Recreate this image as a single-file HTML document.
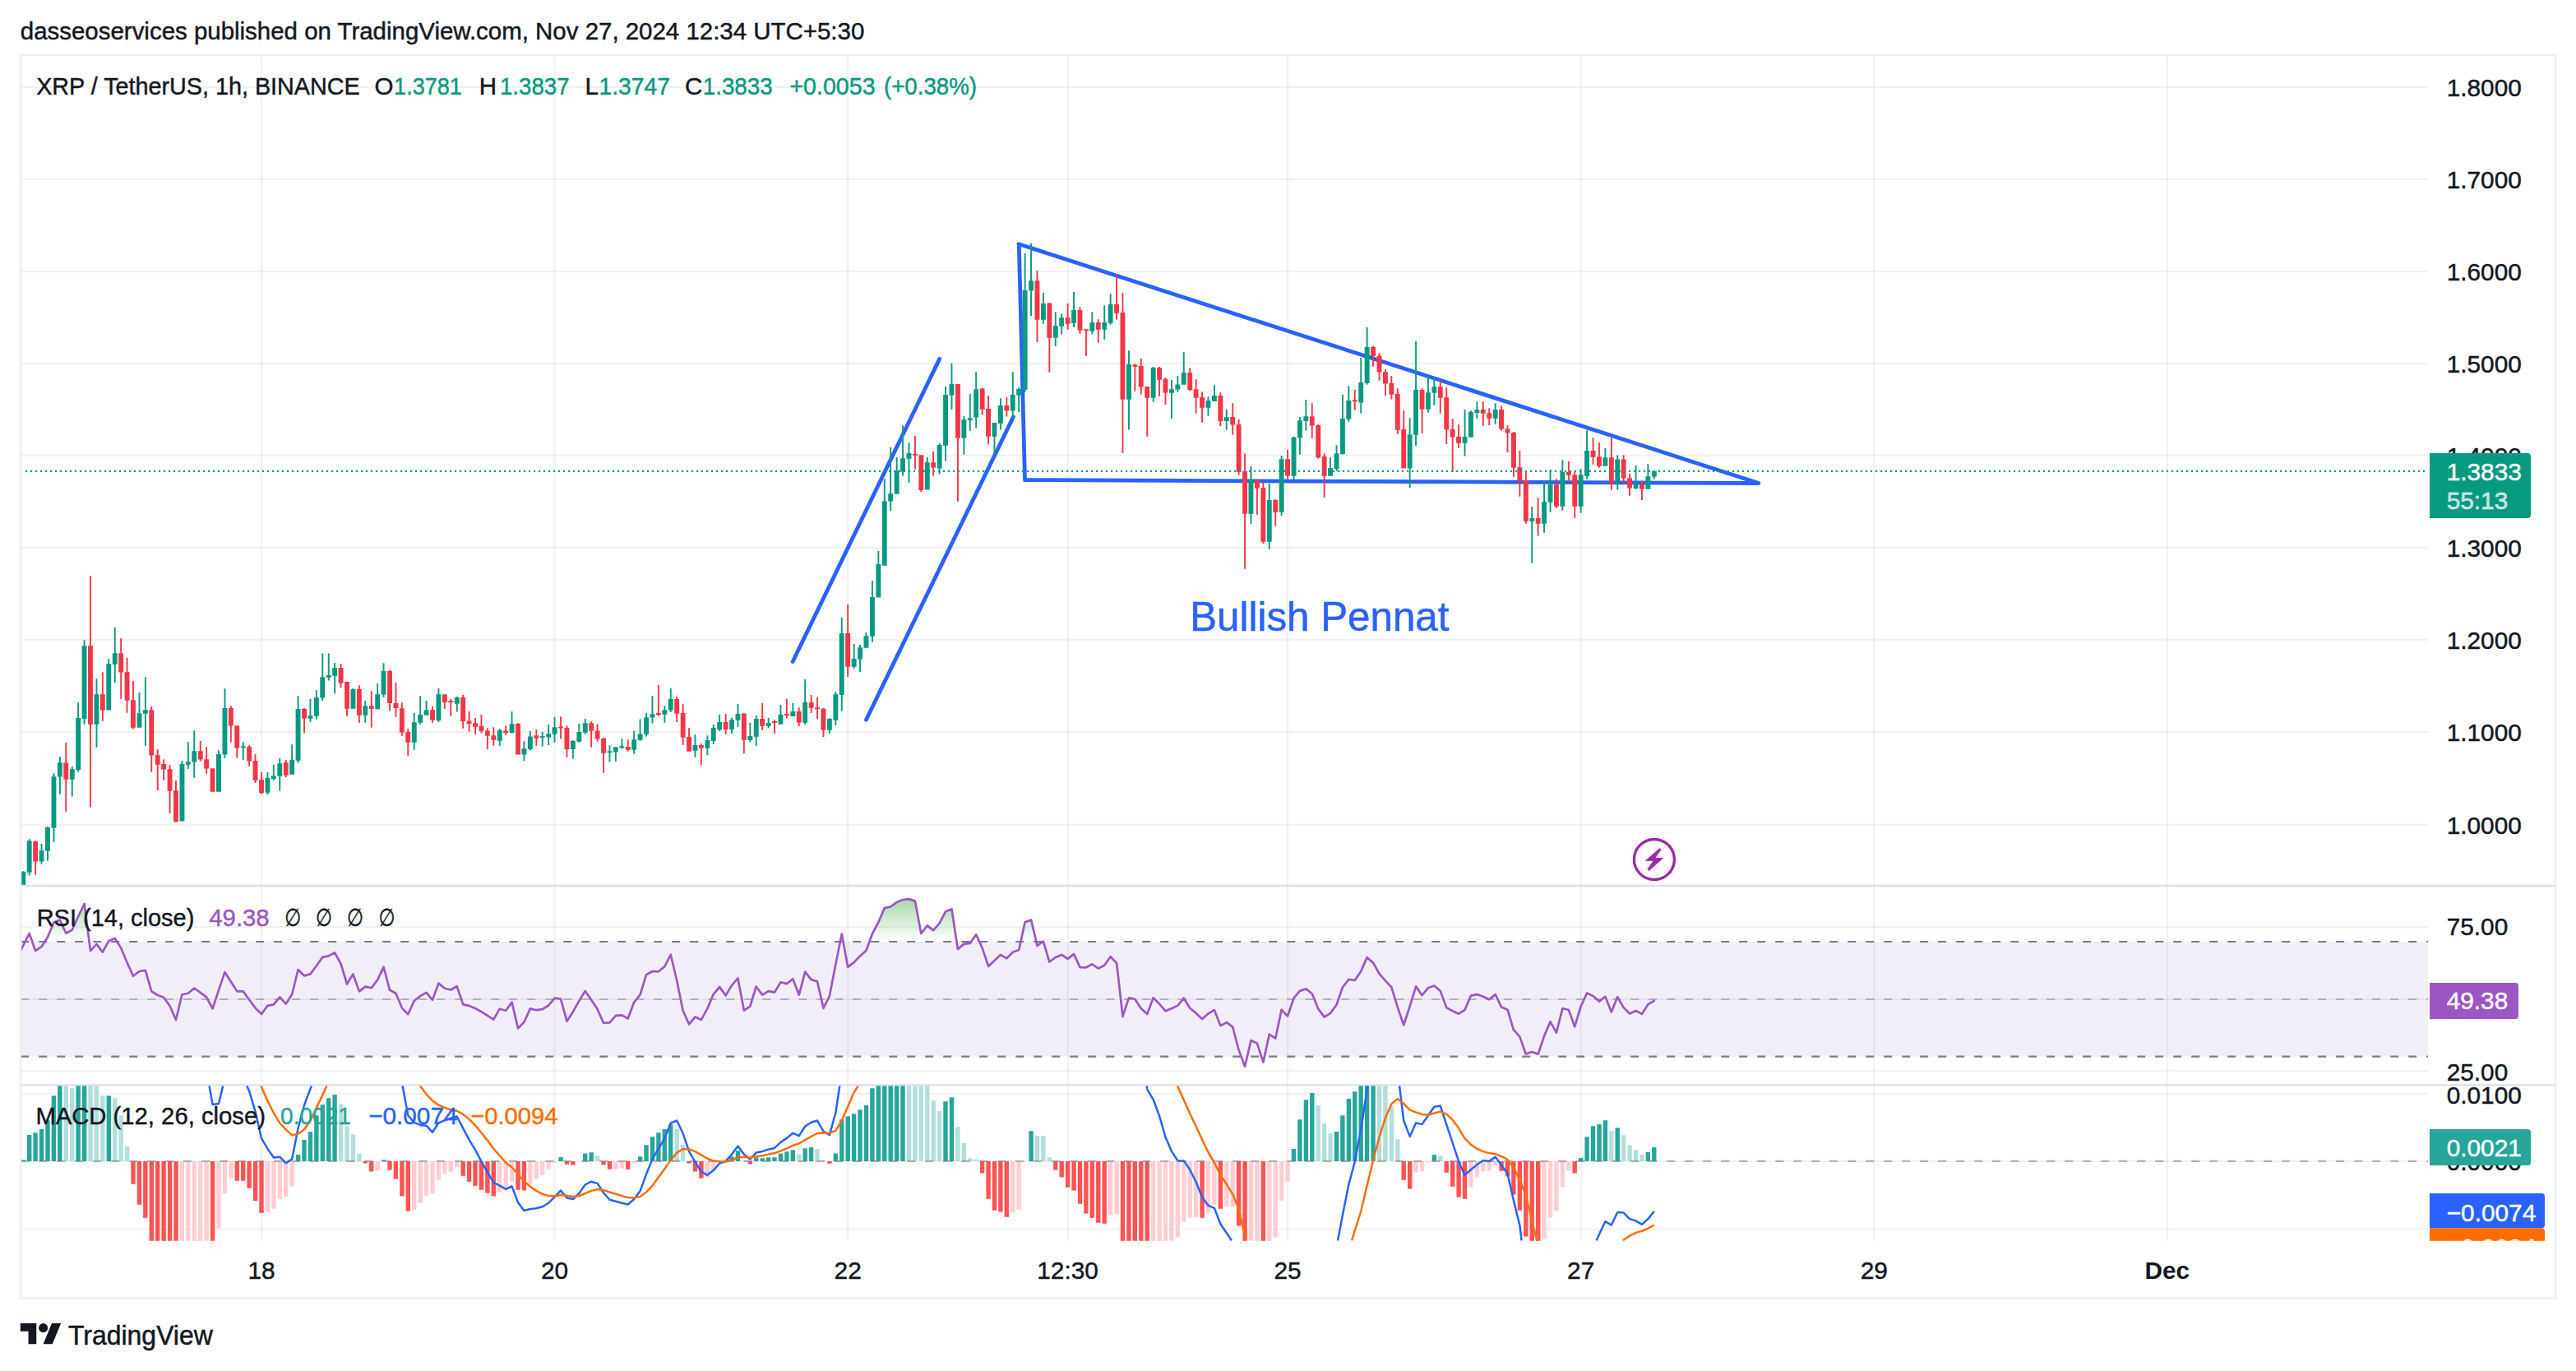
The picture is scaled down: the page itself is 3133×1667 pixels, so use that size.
<!DOCTYPE html>
<html><head><meta charset="utf-8"><title>XRP / TetherUS chart</title><style>html,body{margin:0;padding:0;background:#fff}body{width:3133px;height:1667px;overflow:hidden}svg{display:block}</style></head><body>
<svg width="3133" height="1667" viewBox="0 0 3133 1667" font-family='"Liberation Sans", "DejaVu Sans", sans-serif' shape-rendering="auto">
<defs>
<clipPath id="cm"><rect x="25.3" y="68" width="2927.7" height="1008"/></clipPath>
<clipPath id="cr"><rect x="26" y="1078" width="2927" height="240.29999999999995"/></clipPath>
<clipPath id="cd"><rect x="26" y="1320.3" width="2927" height="188.5"/></clipPath>
<clipPath id="car"><rect x="2953" y="1078" width="154" height="240.29999999999995"/></clipPath>
<clipPath id="cad"><rect x="2953" y="1320.3" width="154" height="188.5"/></clipPath>
<linearGradient id="gg" gradientUnits="userSpaceOnUse" x1="0" y1="1085" x2="0" y2="1145"><stop offset="0" stop-color="#4caf50" stop-opacity="0.55"/><stop offset="1" stop-color="#4caf50" stop-opacity="0"/></linearGradient>
</defs>
<rect width="3133" height="1667" fill="#fff"/>
<text id="title" x="24.8" y="47.8" font-size="28.8" fill="#131722" stroke="#131722" stroke-width="0.45" textLength="1026.5" lengthAdjust="spacingAndGlyphs">dasseoservices published on TradingView.com, Nov 27, 2024 12:34 UTC+5:30</text>
<path d="M26 105.9H2953M26 217.9H2953M26 329.9H2953M26 441.9H2953M26 553.9H2953M26 665.9H2953M26 777.9H2953M26 889.9H2953M26 1002.9H2953M26 1127.2H2953M26 1215H2953M26 1302H2953M26 1329.9H2953M26 1411.9H2953M26 1494.6H2953" stroke="#2a2e39" stroke-opacity="0.065" stroke-width="2.2" fill="none"/>
<path d="M318.0 68V1508.8M674.6 68V1508.8M1031.2 68V1508.8M1298.6 68V1508.8M1566.1 68V1508.8M1922.7 68V1508.8M2279.3 68V1508.8M2635.8 68V1508.8" stroke="#2a2e39" stroke-opacity="0.065" stroke-width="2.2" fill="none"/>
<g clip-path="url(#cm)" stroke="#2962ff" stroke-width="4.8" stroke-linecap="round" stroke-linejoin="round" fill="none">
<path d="M964.1 804.5L1142.7 436.4"/>
<path d="M1053.4 875.2L1232.5 506.8"/>
<path d="M1239.4 300.6L1246.5 583.6L2139 587.5L1239 296.7"/>
</g>
<g clip-path="url(#cm)"><path d="M25.3 1059.8h5.9V1076.6h-5.9zM27.3 1059.2h1.9V1076.6h-1.9zM32.7 1022.2h5.9V1060.8h-5.9zM34.7 1020.2h1.9V1064.5h-1.9zM47.6 1034.2h5.9V1047.6h-5.9zM49.6 1026.1h1.9V1050.7h-1.9zM55.0 1005.9h5.9V1034.7h-5.9zM57.0 1005.1h1.9V1046.6h-1.9zM62.5 944.3h5.9V1006.7h-5.9zM64.5 940.2h1.9V1023.8h-1.9zM69.9 927.2h5.9V944.6h-5.9zM71.9 920.0h1.9V965.8h-1.9zM84.8 935.2h5.9V947.7h-5.9zM86.8 932.1h1.9V968.6h-1.9zM92.2 873.1h5.9V936.0h-5.9zM94.2 854.0h1.9V938.7h-1.9zM99.6 785.2h5.9V873.9h-5.9zM101.6 778.2h1.9V880.7h-1.9zM114.5 844.2h5.9V880.7h-5.9zM116.5 825.2h1.9V908.8h-1.9zM129.3 807.1h5.9V863.6h-5.9zM131.3 801.2h1.9V863.6h-1.9zM136.8 794.2h5.9V807.7h-5.9zM138.8 763.1h1.9V829.9h-1.9zM166.5 867.2h5.9V884.7h-5.9zM168.5 842.0h1.9V884.7h-1.9zM173.9 863.3h5.9V867.7h-5.9zM175.9 823.2h1.9V906.8h-1.9zM218.5 929.0h5.9V998.6h-5.9zM220.5 925.1h1.9V998.6h-1.9zM225.9 926.2h5.9V929.8h-5.9zM227.9 902.2h1.9V934.8h-1.9zM233.3 913.2h5.9V926.7h-5.9zM235.3 888.2h1.9V945.8h-1.9zM263.0 917.1h5.9V962.7h-5.9zM265.0 912.3h1.9V962.7h-1.9zM270.5 861.0h5.9V917.4h-5.9zM272.5 837.2h1.9V921.7h-1.9zM292.8 907.3h5.9V909.3h-5.9zM294.8 902.2h1.9V923.9h-1.9zM322.5 946.1h5.9V963.7h-5.9zM324.5 939.1h1.9V966.6h-1.9zM329.9 943.3h5.9V946.9h-5.9zM331.9 930.1h1.9V948.8h-1.9zM337.3 928.3h5.9V943.8h-5.9zM339.3 922.0h1.9V961.7h-1.9zM352.2 924.1h5.9V941.8h-5.9zM354.2 905.3h1.9V941.8h-1.9zM359.6 862.1h5.9V924.7h-5.9zM361.6 846.2h1.9V927.8h-1.9zM374.5 870.0h5.9V873.7h-5.9zM376.5 850.1h1.9V877.7h-1.9zM381.9 848.1h5.9V870.8h-5.9zM383.9 839.2h1.9V874.6h-1.9zM389.3 823.2h5.9V848.5h-5.9zM391.3 794.2h1.9V851.7h-1.9zM396.8 821.0h5.9V823.7h-5.9zM398.8 794.2h1.9V827.6h-1.9zM404.2 812.0h5.9V821.7h-5.9zM406.2 806.1h1.9V843.6h-1.9zM426.5 837.9h5.9V861.7h-5.9zM428.5 837.1h1.9V861.7h-1.9zM441.3 858.2h5.9V869.7h-5.9zM443.3 852.0h1.9V878.7h-1.9zM456.2 844.3h5.9V862.0h-5.9zM458.2 831.0h1.9V862.7h-1.9zM463.6 816.1h5.9V844.6h-5.9zM465.6 806.2h1.9V847.7h-1.9zM500.8 878.3h5.9V902.8h-5.9zM502.8 867.1h1.9V911.7h-1.9zM508.2 869.1h5.9V878.7h-5.9zM510.2 846.1h1.9V880.8h-1.9zM515.6 863.2h5.9V869.7h-5.9zM517.6 852.0h1.9V869.7h-1.9zM530.5 844.3h5.9V875.9h-5.9zM532.5 837.1h1.9V877.7h-1.9zM552.8 848.0h5.9V855.7h-5.9zM554.8 846.9h1.9V865.5h-1.9zM604.8 888.1h5.9V900.8h-5.9zM606.8 886.0h1.9V906.7h-1.9zM619.6 880.3h5.9V890.9h-5.9zM621.6 865.1h1.9V891.6h-1.9zM634.5 910.3h5.9V917.6h-5.9zM636.5 901.3h1.9V924.9h-1.9zM641.9 895.4h5.9V911.0h-5.9zM643.9 889.1h1.9V912.6h-1.9zM656.8 895.0h5.9V897.0h-5.9zM658.8 890.1h1.9V907.8h-1.9zM664.2 892.3h5.9V896.6h-5.9zM666.2 881.1h1.9V905.9h-1.9zM671.6 884.2h5.9V892.7h-5.9zM673.6 872.1h1.9V902.8h-1.9zM693.9 901.0h5.9V910.9h-5.9zM695.9 900.2h1.9V922.7h-1.9zM701.4 890.1h5.9V901.7h-5.9zM703.4 880.0h1.9V902.8h-1.9zM708.8 879.2h5.9V890.7h-5.9zM710.8 874.1h1.9V892.7h-1.9zM738.5 913.2h5.9V915.2h-5.9zM740.5 906.2h1.9V926.6h-1.9zM745.9 908.3h5.9V914.5h-5.9zM747.9 908.3h1.9V925.8h-1.9zM753.4 907.2h5.9V909.2h-5.9zM755.4 898.2h1.9V910.6h-1.9zM768.2 899.2h5.9V911.7h-5.9zM770.2 888.4h1.9V916.5h-1.9zM775.6 892.4h5.9V899.7h-5.9zM777.6 874.4h1.9V900.8h-1.9zM783.1 872.2h5.9V892.7h-5.9zM785.1 867.1h1.9V895.5h-1.9zM790.5 868.3h5.9V872.5h-5.9zM792.5 846.1h1.9V879.5h-1.9zM805.4 863.3h5.9V868.7h-5.9zM807.4 858.2h1.9V878.8h-1.9zM812.8 850.1h5.9V863.6h-5.9zM814.8 836.9h1.9V865.9h-1.9zM842.5 906.0h5.9V912.8h-5.9zM844.5 893.1h1.9V920.8h-1.9zM857.4 900.1h5.9V909.7h-5.9zM859.4 894.2h1.9V918.0h-1.9zM864.8 885.0h5.9V900.9h-5.9zM866.8 881.0h1.9V905.1h-1.9zM872.2 878.0h5.9V887.2h-5.9zM874.2 869.0h1.9V888.9h-1.9zM887.1 874.9h5.9V886.9h-5.9zM889.1 872.9h1.9V891.9h-1.9zM894.5 867.9h5.9V875.7h-5.9zM896.5 856.1h1.9V883.8h-1.9zM909.4 895.1h5.9V900.1h-5.9zM911.4 879.1h1.9V902.0h-1.9zM916.8 874.0h5.9V895.7h-5.9zM918.8 870.1h1.9V906.8h-1.9zM931.7 879.1h5.9V883.0h-5.9zM933.7 872.9h1.9V885.0h-1.9zM946.5 869.0h5.9V880.7h-5.9zM948.5 857.1h1.9V880.7h-1.9zM961.4 865.1h5.9V870.9h-5.9zM963.4 855.0h1.9V870.9h-1.9zM976.2 854.0h5.9V878.8h-5.9zM978.2 826.0h1.9V881.0h-1.9zM1005.9 874.0h5.9V887.7h-5.9zM1007.9 872.9h1.9V891.9h-1.9zM1013.4 844.2h5.9V875.7h-5.9zM1015.4 841.1h1.9V881.9h-1.9zM1020.8 770.1h5.9V845.0h-5.9zM1022.8 751.0h1.9V864.8h-1.9zM1035.7 801.1h5.9V810.8h-5.9zM1037.7 783.1h1.9V813.1h-1.9zM1043.1 787.2h5.9V801.8h-5.9zM1045.1 784.1h1.9V817.0h-1.9zM1050.5 773.2h5.9V787.8h-5.9zM1052.5 769.1h1.9V787.8h-1.9zM1058.0 726.0h5.9V773.8h-5.9zM1060.0 706.0h1.9V780.8h-1.9zM1065.4 686.1h5.9V726.5h-5.9zM1067.4 670.1h1.9V726.5h-1.9zM1072.8 609.2h5.9V687.7h-5.9zM1074.8 582.3h1.9V687.7h-1.9zM1080.2 600.2h5.9V609.5h-5.9zM1082.2 544.0h1.9V620.9h-1.9zM1087.7 572.3h5.9V600.7h-5.9zM1089.7 556.1h1.9V600.7h-1.9zM1095.1 557.2h5.9V573.5h-5.9zM1097.1 517.2h1.9V578.6h-1.9zM1102.5 551.0h5.9V557.7h-5.9zM1104.5 538.1h1.9V586.7h-1.9zM1124.8 562.2h5.9V595.6h-5.9zM1126.8 556.1h1.9V595.6h-1.9zM1139.7 540.9h5.9V569.6h-5.9zM1141.7 539.0h1.9V576.6h-1.9zM1147.1 479.9h5.9V541.7h-5.9zM1149.1 470.1h1.9V560.6h-1.9zM1154.5 467.0h5.9V480.7h-5.9zM1156.5 441.8h1.9V497.8h-1.9zM1169.4 510.2h5.9V532.7h-5.9zM1171.4 506.0h1.9V552.8h-1.9zM1176.8 508.3h5.9V511.0h-5.9zM1178.8 479.1h1.9V523.9h-1.9zM1184.2 473.2h5.9V507.6h-5.9zM1186.2 452.3h1.9V520.8h-1.9zM1206.5 514.1h5.9V530.7h-5.9zM1208.5 514.1h1.9V551.7h-1.9zM1214.0 493.1h5.9V514.9h-5.9zM1216.0 484.3h1.9V522.6h-1.9zM1228.8 479.9h5.9V499.6h-5.9zM1230.8 452.3h1.9V507.9h-1.9zM1236.2 472.9h5.9V480.7h-5.9zM1238.2 471.0h1.9V500.9h-1.9zM1243.7 353.0h5.9V473.7h-5.9zM1245.7 308.0h1.9V476.8h-1.9zM1251.1 341.2h5.9V353.6h-5.9zM1253.1 296.1h1.9V383.9h-1.9zM1266.0 369.1h5.9V388.7h-5.9zM1268.0 356.1h1.9V393.7h-1.9zM1280.8 396.0h5.9V410.8h-5.9zM1282.8 379.2h1.9V420.9h-1.9zM1288.2 386.2h5.9V396.8h-5.9zM1290.2 381.3h1.9V406.6h-1.9zM1303.1 377.1h5.9V392.9h-5.9zM1305.1 354.9h1.9V397.9h-1.9zM1325.4 392.1h5.9V402.7h-5.9zM1327.4 379.2h1.9V406.6h-1.9zM1340.3 392.1h5.9V400.7h-5.9zM1342.3 371.2h1.9V412.8h-1.9zM1347.7 370.1h5.9V392.9h-5.9zM1349.7 357.2h1.9V394.8h-1.9zM1370.0 443.1h5.9V485.7h-5.9zM1372.0 426.3h1.9V522.6h-1.9zM1399.7 447.0h5.9V483.8h-5.9zM1401.7 446.0h1.9V488.8h-1.9zM1422.0 473.3h5.9V477.8h-5.9zM1424.0 461.9h1.9V508.9h-1.9zM1429.4 467.4h5.9V473.6h-5.9zM1431.4 457.0h1.9V476.7h-1.9zM1436.8 453.1h5.9V467.8h-5.9zM1438.8 428.1h1.9V467.8h-1.9zM1466.5 487.1h5.9V495.8h-5.9zM1468.5 482.1h1.9V505.7h-1.9zM1474.0 481.0h5.9V487.9h-5.9zM1476.0 468.2h1.9V487.9h-1.9zM1488.8 507.3h5.9V512.0h-5.9zM1490.8 498.1h1.9V522.8h-1.9zM1518.5 583.1h5.9V624.7h-5.9zM1520.5 567.1h1.9V636.8h-1.9zM1540.8 608.1h5.9V658.8h-5.9zM1542.8 588.1h1.9V667.8h-1.9zM1555.7 558.3h5.9V622.7h-5.9zM1557.7 553.9h1.9V626.9h-1.9zM1570.6 531.8h5.9V578.8h-5.9zM1572.6 531.1h1.9V584.7h-1.9zM1578.0 511.2h5.9V532.6h-5.9zM1580.0 507.0h1.9V552.8h-1.9zM1585.4 506.2h5.9V512.0h-5.9zM1587.4 486.0h1.9V523.8h-1.9zM1615.1 569.1h5.9V578.8h-5.9zM1617.1 556.2h1.9V578.8h-1.9zM1622.6 551.3h5.9V569.9h-5.9zM1624.6 541.2h1.9V573.0h-1.9zM1630.0 509.0h5.9V552.0h-5.9zM1632.0 480.1h1.9V552.8h-1.9zM1637.4 487.1h5.9V509.8h-5.9zM1639.4 469.2h1.9V512.7h-1.9zM1652.3 465.0h5.9V489.6h-5.9zM1654.3 435.1h1.9V502.8h-1.9zM1659.7 421.9h5.9V466.1h-5.9zM1661.7 398.1h1.9V467.8h-1.9zM1711.7 528.3h5.9V569.6h-5.9zM1713.7 508.2h1.9V593.2h-1.9zM1719.1 474.1h5.9V528.7h-5.9zM1721.1 415.1h1.9V541.9h-1.9zM1734.0 477.2h5.9V497.7h-5.9zM1736.0 458.1h1.9V501.6h-1.9zM1741.4 470.2h5.9V477.8h-5.9zM1743.4 458.1h1.9V492.7h-1.9zM1778.6 531.1h5.9V538.8h-5.9zM1780.6 498.1h1.9V554.5h-1.9zM1786.0 501.1h5.9V531.7h-5.9zM1788.0 499.3h1.9V531.7h-1.9zM1793.4 498.1h5.9V502.0h-5.9zM1795.4 488.2h1.9V508.8h-1.9zM1815.7 498.1h5.9V508.8h-5.9zM1817.7 490.2h1.9V515.7h-1.9zM1860.3 630.0h5.9V633.9h-5.9zM1862.3 616.0h1.9V684.7h-1.9zM1875.1 610.1h5.9V636.7h-5.9zM1877.1 584.3h1.9V647.8h-1.9zM1882.6 589.2h5.9V610.8h-5.9zM1884.6 571.1h1.9V622.8h-1.9zM1897.4 574.0h5.9V615.8h-5.9zM1899.4 559.2h1.9V620.7h-1.9zM1919.7 577.3h5.9V615.8h-5.9zM1921.7 570.2h1.9V623.8h-1.9zM1927.1 548.1h5.9V578.9h-5.9zM1929.1 523.3h1.9V582.8h-1.9zM1949.4 556.2h5.9V566.7h-5.9zM1951.4 545.1h1.9V566.7h-1.9zM1964.3 558.5h5.9V587.8h-5.9zM1966.3 553.2h1.9V595.6h-1.9zM1986.6 588.9h5.9V593.9h-5.9zM1988.6 566.1h1.9V594.8h-1.9zM2001.4 579.3h5.9V594.7h-5.9zM2003.4 564.1h1.9V594.7h-1.9zM2008.9 573.1h5.9V579.6h-5.9zM2010.9 572.3h1.9V582.8h-1.9z" fill="#089981"/><path d="M40.2 1023.0h5.9V1047.6h-5.9zM42.2 1022.2h1.9V1063.7h-1.9zM77.3 927.2h5.9V947.7h-5.9zM79.3 903.1h1.9V986.8h-1.9zM107.0 785.2h5.9V880.7h-5.9zM109.0 699.9h1.9V981.5h-1.9zM121.9 844.2h5.9V863.6h-5.9zM123.9 817.2h1.9V876.8h-1.9zM144.2 794.2h5.9V817.5h-5.9zM146.2 776.3h1.9V849.8h-1.9zM151.6 817.2h5.9V851.7h-5.9zM153.6 800.1h1.9V866.7h-1.9zM159.0 851.2h5.9V884.7h-5.9zM161.0 828.0h1.9V886.6h-1.9zM181.3 863.3h5.9V918.6h-5.9zM183.3 859.1h1.9V938.7h-1.9zM188.8 918.2h5.9V929.8h-5.9zM190.8 911.2h1.9V960.9h-1.9zM196.2 929.0h5.9V935.6h-5.9zM198.2 923.3h1.9V948.8h-1.9zM203.6 935.2h5.9V961.7h-5.9zM205.6 930.3h1.9V988.8h-1.9zM211.0 961.2h5.9V998.9h-5.9zM213.0 949.2h1.9V999.7h-1.9zM240.8 913.2h5.9V923.6h-5.9zM242.8 901.1h1.9V925.6h-1.9zM248.2 923.3h5.9V934.5h-5.9zM250.2 908.1h1.9V940.7h-1.9zM255.6 934.2h5.9V962.7h-5.9zM257.6 934.2h1.9V962.7h-1.9zM277.9 861.0h5.9V882.4h-5.9zM279.9 858.2h1.9V902.6h-1.9zM285.3 882.3h5.9V909.6h-5.9zM287.3 882.3h1.9V921.6h-1.9zM300.2 908.1h5.9V925.6h-5.9zM302.2 906.0h1.9V931.7h-1.9zM307.6 925.1h5.9V948.9h-5.9zM309.6 917.1h1.9V951.9h-1.9zM315.1 948.1h5.9V964.0h-5.9zM317.1 939.1h1.9V965.8h-1.9zM344.8 927.2h5.9V942.7h-5.9zM346.8 924.1h1.9V944.9h-1.9zM367.1 862.1h5.9V873.4h-5.9zM369.1 861.0h1.9V891.3h-1.9zM411.6 812.0h5.9V830.7h-5.9zM413.6 807.1h1.9V836.6h-1.9zM419.1 829.0h5.9V861.7h-5.9zM421.1 829.0h1.9V870.7h-1.9zM433.9 837.9h5.9V869.7h-5.9zM435.9 833.2h1.9V878.7h-1.9zM448.8 858.2h5.9V861.7h-5.9zM450.8 840.2h1.9V884.6h-1.9zM471.1 815.8h5.9V855.0h-5.9zM473.1 815.0h1.9V864.4h-1.9zM478.5 855.1h5.9V860.9h-5.9zM480.5 830.1h1.9V871.7h-1.9zM485.9 861.2h5.9V890.7h-5.9zM487.9 854.2h1.9V894.7h-1.9zM493.3 890.1h5.9V902.8h-5.9zM495.3 886.2h1.9V918.8h-1.9zM523.1 863.2h5.9V875.6h-5.9zM525.1 859.0h1.9V878.7h-1.9zM537.9 844.3h5.9V853.9h-5.9zM539.9 844.3h1.9V861.7h-1.9zM545.3 852.0h5.9V854.0h-5.9zM547.3 850.0h1.9V870.7h-1.9zM560.2 848.0h5.9V876.9h-5.9zM562.2 845.0h1.9V885.7h-1.9zM567.6 876.4h5.9V880.0h-5.9zM569.6 865.1h1.9V889.6h-1.9zM575.1 879.2h5.9V883.7h-5.9zM577.1 873.0h1.9V892.7h-1.9zM582.5 883.1h5.9V888.8h-5.9zM584.5 869.1h1.9V891.6h-1.9zM589.9 888.4h5.9V894.7h-5.9zM591.9 885.3h1.9V910.9h-1.9zM597.4 894.3h5.9V899.7h-5.9zM599.4 884.2h1.9V906.7h-1.9zM612.2 888.4h5.9V890.9h-5.9zM614.2 882.2h1.9V893.8h-1.9zM627.1 880.0h5.9V917.6h-5.9zM629.1 879.2h1.9V917.6h-1.9zM649.4 894.3h5.9V897.7h-5.9zM651.4 887.3h1.9V906.7h-1.9zM679.1 883.4h5.9V885.4h-5.9zM681.1 871.3h1.9V898.6h-1.9zM686.5 885.0h5.9V910.9h-5.9zM688.5 882.2h1.9V920.7h-1.9zM716.2 879.2h5.9V888.8h-5.9zM718.2 877.2h1.9V908.7h-1.9zM723.6 888.4h5.9V898.6h-5.9zM725.6 880.3h1.9V901.7h-1.9zM731.1 897.8h5.9V915.7h-5.9zM733.1 897.1h1.9V939.8h-1.9zM760.8 907.9h5.9V911.8h-5.9zM762.8 899.2h1.9V913.7h-1.9zM797.9 867.0h5.9V869.0h-5.9zM799.9 833.0h1.9V870.9h-1.9zM820.2 850.1h5.9V867.8h-5.9zM822.2 847.0h1.9V877.9h-1.9zM827.7 867.0h5.9V896.7h-5.9zM829.7 856.1h1.9V905.8h-1.9zM835.1 895.9h5.9V913.8h-5.9zM837.1 885.0h1.9V913.8h-1.9zM849.9 906.0h5.9V909.7h-5.9zM851.9 904.0h1.9V929.9h-1.9zM879.7 878.0h5.9V886.9h-5.9zM881.7 867.9h1.9V892.8h-1.9zM901.9 867.8h5.9V899.8h-5.9zM903.9 867.0h1.9V915.9h-1.9zM924.2 874.0h5.9V882.7h-5.9zM926.2 855.0h1.9V888.0h-1.9zM939.1 877.1h5.9V879.1h-5.9zM941.1 874.9h1.9V891.9h-1.9zM953.9 867.9h5.9V869.9h-5.9zM955.9 850.1h1.9V872.9h-1.9zM968.8 865.1h5.9V878.8h-5.9zM970.8 860.2h1.9V883.0h-1.9zM983.7 854.0h5.9V860.8h-5.9zM985.7 845.0h1.9V867.0h-1.9zM991.1 860.2h5.9V862.2h-5.9zM993.1 848.1h1.9V874.0h-1.9zM998.5 861.7h5.9V887.7h-5.9zM1000.5 861.0h1.9V895.9h-1.9zM1028.2 770.1h5.9V810.8h-5.9zM1030.2 735.1h1.9V822.9h-1.9zM1110.0 551.7h5.9V553.7h-5.9zM1112.0 530.1h1.9V570.7h-1.9zM1117.4 553.3h5.9V596.0h-5.9zM1119.4 553.3h1.9V597.9h-1.9zM1132.2 562.2h5.9V568.5h-5.9zM1134.2 549.1h1.9V578.6h-1.9zM1162.0 467.0h5.9V532.7h-5.9zM1164.0 467.0h1.9V609.7h-1.9zM1191.7 472.6h5.9V497.8h-5.9zM1193.7 472.1h1.9V504.8h-1.9zM1199.1 497.0h5.9V530.7h-5.9zM1201.1 481.1h1.9V540.6h-1.9zM1221.4 493.1h5.9V499.6h-5.9zM1223.4 483.0h1.9V506.6h-1.9zM1258.5 341.2h5.9V388.7h-5.9zM1260.5 329.1h1.9V415.7h-1.9zM1273.4 368.8h5.9V410.8h-5.9zM1275.4 368.1h1.9V452.7h-1.9zM1295.7 386.2h5.9V393.7h-5.9zM1297.7 369.1h1.9V400.7h-1.9zM1310.5 377.1h5.9V401.8h-5.9zM1312.5 373.2h1.9V405.8h-1.9zM1318.0 400.2h5.9V402.2h-5.9zM1320.0 400.2h1.9V432.8h-1.9zM1332.8 392.1h5.9V400.7h-5.9zM1334.8 388.3h1.9V416.7h-1.9zM1355.1 370.1h5.9V380.8h-5.9zM1357.1 335.1h1.9V388.7h-1.9zM1362.5 380.0h5.9V485.7h-5.9zM1364.5 356.1h1.9V550.7h-1.9zM1377.4 443.4h5.9V445.7h-5.9zM1379.4 442.2h1.9V475.7h-1.9zM1384.8 445.0h5.9V470.6h-5.9zM1386.8 436.1h1.9V479.6h-1.9zM1392.3 470.1h5.9V483.8h-5.9zM1394.3 470.1h1.9V530.7h-1.9zM1407.1 447.0h5.9V461.7h-5.9zM1409.1 446.0h1.9V481.8h-1.9zM1414.5 461.0h5.9V477.6h-5.9zM1416.5 458.9h1.9V491.9h-1.9zM1444.3 453.1h5.9V473.9h-5.9zM1446.3 447.2h1.9V475.6h-1.9zM1451.7 473.3h5.9V483.7h-5.9zM1453.7 461.2h1.9V502.8h-1.9zM1459.1 482.9h5.9V495.8h-5.9zM1461.1 476.2h1.9V513.7h-1.9zM1481.4 481.0h5.9V512.0h-5.9zM1483.4 477.2h1.9V517.9h-1.9zM1496.3 507.0h5.9V516.6h-5.9zM1498.3 490.2h1.9V528.7h-1.9zM1503.7 516.0h5.9V573.8h-5.9zM1505.7 510.1h1.9V577.7h-1.9zM1511.1 573.0h5.9V624.7h-5.9zM1513.1 551.3h1.9V691.8h-1.9zM1526.0 583.4h5.9V593.7h-5.9zM1528.0 582.8h1.9V625.8h-1.9zM1533.4 593.1h5.9V658.8h-5.9zM1535.4 587.0h1.9V660.9h-1.9zM1548.3 608.1h5.9V622.8h-5.9zM1550.3 607.2h1.9V639.8h-1.9zM1563.1 558.3h5.9V578.4h-5.9zM1565.1 547.1h1.9V582.8h-1.9zM1592.8 506.2h5.9V517.6h-5.9zM1594.8 490.2h1.9V532.9h-1.9zM1600.3 517.1h5.9V556.2h-5.9zM1602.3 516.0h1.9V557.8h-1.9zM1607.7 555.1h5.9V578.8h-5.9zM1609.7 551.3h1.9V604.9h-1.9zM1644.8 486.3h5.9V488.3h-5.9zM1646.8 474.1h1.9V498.8h-1.9zM1667.1 421.9h5.9V432.9h-5.9zM1669.1 420.8h1.9V445.6h-1.9zM1674.6 432.4h5.9V452.6h-5.9zM1676.6 429.3h1.9V462.7h-1.9zM1682.0 452.2h5.9V466.6h-5.9zM1684.0 449.0h1.9V480.9h-1.9zM1689.4 466.1h5.9V479.8h-5.9zM1691.4 457.0h1.9V485.6h-1.9zM1696.8 479.0h5.9V522.8h-5.9zM1698.8 472.3h1.9V527.7h-1.9zM1704.3 522.1h5.9V569.6h-5.9zM1706.3 499.2h1.9V569.6h-1.9zM1726.6 474.1h5.9V497.7h-5.9zM1728.6 472.3h1.9V526.9h-1.9zM1748.8 470.2h5.9V483.7h-5.9zM1750.8 464.3h1.9V502.8h-1.9zM1756.3 483.2h5.9V522.5h-5.9zM1758.3 471.3h1.9V539.9h-1.9zM1763.7 522.1h5.9V531.5h-5.9zM1765.7 509.0h1.9V573.5h-1.9zM1771.1 531.1h5.9V538.8h-5.9zM1773.1 516.3h1.9V544.7h-1.9zM1800.8 498.1h5.9V502.7h-5.9zM1802.8 488.2h1.9V517.8h-1.9zM1808.3 502.2h5.9V508.8h-5.9zM1810.3 496.2h1.9V516.9h-1.9zM1823.1 498.1h5.9V521.8h-5.9zM1825.1 493.2h1.9V523.7h-1.9zM1830.6 521.2h5.9V526.5h-5.9zM1832.6 517.2h1.9V549.9h-1.9zM1838.0 525.9h5.9V568.8h-5.9zM1840.0 525.0h1.9V579.8h-1.9zM1845.4 568.2h5.9V584.7h-5.9zM1847.4 548.0h1.9V603.8h-1.9zM1852.9 584.3h5.9V633.8h-5.9zM1854.9 574.0h1.9V636.7h-1.9zM1867.7 630.0h5.9V636.7h-5.9zM1869.7 605.1h1.9V651.7h-1.9zM1890.0 589.2h5.9V615.8h-5.9zM1892.0 582.2h1.9V617.8h-1.9zM1904.9 574.0h5.9V577.7h-5.9zM1906.9 560.9h1.9V585.9h-1.9zM1912.3 577.3h5.9V615.8h-5.9zM1914.3 573.4h1.9V629.7h-1.9zM1934.6 548.1h5.9V555.7h-5.9zM1936.6 532.2h1.9V564.7h-1.9zM1942.0 555.3h5.9V566.8h-5.9zM1944.0 538.1h1.9V568.8h-1.9zM1956.9 556.2h5.9V587.8h-5.9zM1958.9 532.2h1.9V595.8h-1.9zM1971.7 558.5h5.9V581.6h-5.9zM1973.7 553.2h1.9V588.6h-1.9zM1979.1 581.4h5.9V593.6h-5.9zM1981.1 576.1h1.9V602.8h-1.9zM1994.0 588.9h5.9V594.7h-5.9zM1996.0 584.3h1.9V607.9h-1.9z" fill="#f23645"/></g>
<path d="M30.9 572.9H2952" stroke="#089981" stroke-width="2.2" stroke-dasharray="2.2 3.8" fill="none"/>
<text id="bp" x="1447.2" y="766.7" font-size="50" fill="#2962ff" stroke="#2962ff" stroke-width="0.5" textLength="315.3" lengthAdjust="spacingAndGlyphs">Bullish Pennat</text>
<g transform="translate(2011.95 1045)" fill="#9c27b0"><circle r="24.5" fill="none" stroke="#9c27b0" stroke-width="3.3"/><path d="M6.5-13.5L-10.7 1.6L-1.1 1.7L-8.1 11.8L-6.5 13.7L10.9-1.7L1.1-1.7L8.3-11.9z" stroke="#9c27b0" stroke-width="0.6" stroke-linejoin="round"/></g>
<path d="M26 1077H3107M26 1319.3H3107" stroke="#dde0e9" stroke-width="2.3" fill="none"/>
<g clip-path="url(#cr)">
<rect x="26" y="1145" width="2927" height="139.7" fill="#7e57c2" fill-opacity="0.1"/>
<path d="M24.0 1145.0L28.3 1145.0L30.6 1145.0L35.7 1135.0L39.2 1145.0L43.1 1145.0L50.6 1145.0L54.4 1145.0L58.0 1139.4L65.4 1121.5L72.8 1118.4L80.3 1134.7L87.7 1130.8L95.1 1114.5L102.6 1099.0L108.5 1145.0L110.0 1145.0L117.4 1145.0L124.8 1145.0L131.7 1145.0L132.3 1144.0L139.7 1140.9L142.3 1145.0L147.1 1145.0L154.6 1145.0L162.0 1145.0L169.4 1145.0L176.8 1145.0L184.3 1145.0L191.7 1145.0L199.1 1145.0L206.6 1145.0L214.0 1145.0L221.4 1145.0L228.9 1145.0L236.3 1145.0L243.7 1145.0L251.1 1145.0L258.6 1145.0L266.0 1145.0L273.4 1145.0L280.9 1145.0L288.3 1145.0L295.7 1145.0L303.1 1145.0L310.6 1145.0L318.0 1145.0L325.4 1145.0L332.9 1145.0L340.3 1145.0L347.7 1145.0L355.1 1145.0L362.6 1145.0L370.0 1145.0L377.4 1145.0L384.9 1145.0L392.3 1145.0L399.7 1145.0L407.1 1145.0L414.6 1145.0L422.0 1145.0L429.4 1145.0L436.9 1145.0L444.3 1145.0L451.7 1145.0L459.2 1145.0L466.6 1145.0L474.0 1145.0L481.4 1145.0L488.9 1145.0L496.3 1145.0L503.7 1145.0L511.2 1145.0L518.6 1145.0L526.0 1145.0L533.4 1145.0L540.9 1145.0L548.3 1145.0L555.7 1145.0L563.2 1145.0L570.6 1145.0L578.0 1145.0L585.4 1145.0L592.9 1145.0L600.3 1145.0L607.7 1145.0L615.2 1145.0L622.6 1145.0L630.0 1145.0L637.4 1145.0L644.9 1145.0L652.3 1145.0L659.7 1145.0L667.2 1145.0L674.6 1145.0L682.0 1145.0L689.5 1145.0L696.9 1145.0L704.3 1145.0L711.7 1145.0L719.2 1145.0L726.6 1145.0L734.0 1145.0L741.5 1145.0L748.9 1145.0L756.3 1145.0L763.7 1145.0L771.2 1145.0L778.6 1145.0L786.0 1145.0L793.5 1145.0L800.9 1145.0L808.3 1145.0L815.7 1145.0L823.2 1145.0L830.6 1145.0L838.0 1145.0L845.5 1145.0L852.9 1145.0L860.3 1145.0L867.7 1145.0L875.2 1145.0L882.6 1145.0L890.0 1145.0L897.5 1145.0L904.9 1145.0L912.3 1145.0L919.7 1145.0L927.2 1145.0L934.6 1145.0L942.0 1145.0L949.5 1145.0L956.9 1145.0L964.3 1145.0L971.8 1145.0L979.2 1145.0L986.6 1145.0L994.0 1145.0L1001.5 1145.0L1008.9 1145.0L1016.3 1145.0L1021.9 1145.0L1023.8 1135.5L1025.5 1145.0L1031.2 1145.0L1038.6 1145.0L1046.0 1145.0L1053.5 1145.0L1057.4 1145.0L1060.9 1135.5L1068.3 1121.5L1075.8 1104.1L1083.2 1102.4L1090.6 1097.1L1098.0 1094.0L1105.5 1093.1L1112.9 1095.6L1120.3 1135.0L1127.8 1125.4L1135.2 1131.1L1142.6 1122.7L1150.0 1108.3L1157.5 1105.5L1163.5 1145.0L1164.9 1145.0L1172.3 1145.0L1179.8 1145.0L1181.1 1145.0L1187.2 1136.4L1191.2 1145.0L1194.6 1145.0L1202.1 1145.0L1209.5 1145.0L1216.9 1145.0L1224.3 1145.0L1231.8 1145.0L1239.2 1145.0L1241.4 1145.0L1246.6 1121.3L1254.1 1118.5L1260.3 1145.0L1261.5 1145.0L1268.4 1145.0L1268.9 1144.6L1269.0 1145.0L1276.3 1145.0L1283.8 1145.0L1291.2 1145.0L1298.6 1145.0L1306.1 1145.0L1313.5 1145.0L1320.9 1145.0L1328.3 1145.0L1335.8 1145.0L1343.2 1145.0L1350.6 1145.0L1358.1 1145.0L1365.5 1145.0L1372.9 1145.0L1380.3 1145.0L1387.8 1145.0L1395.2 1145.0L1402.6 1145.0L1410.1 1145.0L1417.5 1145.0L1424.9 1145.0L1432.4 1145.0L1439.8 1145.0L1447.2 1145.0L1454.6 1145.0L1462.1 1145.0L1469.5 1145.0L1476.9 1145.0L1484.4 1145.0L1491.8 1145.0L1499.2 1145.0L1506.6 1145.0L1514.1 1145.0L1521.5 1145.0L1528.9 1145.0L1536.4 1145.0L1543.8 1145.0L1551.2 1145.0L1558.6 1145.0L1566.1 1145.0L1573.5 1145.0L1580.9 1145.0L1588.4 1145.0L1595.8 1145.0L1603.2 1145.0L1610.6 1145.0L1618.1 1145.0L1625.5 1145.0L1632.9 1145.0L1640.4 1145.0L1647.8 1145.0L1655.2 1145.0L1662.6 1145.0L1670.1 1145.0L1677.5 1145.0L1684.9 1145.0L1692.4 1145.0L1699.8 1145.0L1707.2 1145.0L1714.7 1145.0L1722.1 1145.0L1729.5 1145.0L1736.9 1145.0L1744.4 1145.0L1751.8 1145.0L1759.2 1145.0L1766.7 1145.0L1774.1 1145.0L1781.5 1145.0L1788.9 1145.0L1796.4 1145.0L1803.8 1145.0L1811.2 1145.0L1818.7 1145.0L1826.1 1145.0L1833.5 1145.0L1840.9 1145.0L1848.4 1145.0L1855.8 1145.0L1863.2 1145.0L1870.7 1145.0L1878.1 1145.0L1885.5 1145.0L1892.9 1145.0L1900.4 1145.0L1907.8 1145.0L1915.2 1145.0L1922.7 1145.0L1930.1 1145.0L1937.5 1145.0L1945.0 1145.0L1952.4 1145.0L1959.8 1145.0L1967.2 1145.0L1974.7 1145.0L1982.1 1145.0L1989.5 1145.0L1997.0 1145.0L2004.4 1145.0L2011.8 1145.0L2011.8 1145L24.0 1145z" fill="url(#gg)"/>
<path d="M25.2 1145H2953M25.2 1284.7H2953" stroke="#787b86" stroke-width="2.2" stroke-dasharray="10 12" fill="none"/>
<path d="M25.2 1215H2953" stroke="#787b86" stroke-opacity="0.5" stroke-width="2.2" stroke-dasharray="10 12" fill="none"/>
<path d="M24.0 1158.0L28.3 1149.5L35.7 1135.0L43.1 1156.1L50.6 1151.0L58.0 1139.4L65.4 1121.5L72.8 1118.4L80.3 1134.7L87.7 1130.8L95.1 1114.5L102.6 1099.0L110.0 1156.1L117.4 1147.9L124.8 1157.7L132.3 1144.0L139.7 1140.9L147.1 1152.6L154.6 1170.4L162.0 1186.7L169.4 1181.0L176.8 1179.8L184.3 1205.4L191.7 1210.0L199.1 1212.7L206.6 1223.3L214.0 1240.0L221.4 1209.3L228.9 1207.7L236.3 1201.5L243.7 1206.9L251.1 1212.4L258.6 1226.4L266.0 1203.8L273.4 1182.1L280.9 1193.7L288.3 1205.4L295.7 1205.4L303.1 1215.5L310.6 1225.6L318.0 1233.0L325.4 1222.9L332.9 1221.4L340.3 1212.4L347.7 1220.6L355.1 1209.3L362.6 1179.0L370.0 1186.4L377.4 1184.4L384.9 1174.3L392.3 1163.9L399.7 1162.4L407.1 1158.3L414.6 1172.0L422.0 1196.5L429.4 1184.4L436.9 1205.4L444.3 1199.6L451.7 1201.2L459.2 1191.4L466.6 1175.9L474.0 1203.8L481.4 1207.7L488.9 1225.6L496.3 1233.3L503.7 1217.0L511.2 1211.1L518.6 1206.9L526.0 1215.8L533.4 1195.6L540.9 1201.8L548.3 1203.5L555.7 1199.2L563.2 1221.4L570.6 1222.9L578.0 1226.0L585.4 1230.2L592.9 1234.9L600.3 1239.6L607.7 1226.7L615.2 1228.7L622.6 1218.6L630.0 1250.4L637.4 1242.7L644.9 1226.4L652.3 1228.2L659.7 1227.1L667.2 1222.5L674.6 1213.6L682.0 1214.7L689.5 1241.9L696.9 1230.2L704.3 1217.0L711.7 1204.9L719.2 1215.8L726.6 1227.1L734.0 1243.9L741.5 1243.4L748.9 1234.9L756.3 1234.4L763.7 1238.5L771.2 1218.6L778.6 1209.3L786.0 1185.2L793.5 1181.0L800.9 1181.3L808.3 1175.1L815.7 1160.8L823.2 1192.2L830.6 1228.7L838.0 1245.3L845.5 1236.5L852.9 1239.9L860.3 1226.4L867.7 1208.8L875.2 1200.0L882.6 1210.5L890.0 1198.1L897.5 1189.4L904.9 1228.7L912.3 1223.6L919.7 1199.5L927.2 1209.6L934.6 1205.1L942.0 1206.6L949.5 1194.2L956.9 1196.1L964.3 1190.2L971.8 1209.7L979.2 1181.6L986.6 1191.1L994.0 1193.3L1001.5 1225.9L1008.9 1211.1L1016.3 1172.8L1023.8 1135.5L1031.2 1175.9L1038.6 1170.1L1046.0 1162.4L1053.5 1155.7L1060.9 1135.5L1068.3 1121.5L1075.8 1104.1L1083.2 1102.4L1090.6 1097.1L1098.0 1094.0L1105.5 1093.1L1112.9 1095.6L1120.3 1135.0L1127.8 1125.4L1135.2 1131.1L1142.6 1122.7L1150.0 1108.3L1157.5 1105.5L1164.9 1154.1L1172.3 1147.9L1179.8 1146.9L1187.2 1136.4L1194.6 1152.4L1202.1 1174.9L1209.5 1167.9L1216.9 1160.9L1224.3 1165.3L1231.8 1157.8L1239.2 1155.0L1246.6 1121.3L1254.1 1118.5L1261.5 1150.0L1268.9 1144.6L1276.3 1169.5L1283.8 1164.0L1291.2 1160.9L1298.6 1165.9L1306.1 1160.1L1313.5 1176.1L1320.9 1176.4L1328.3 1172.3L1335.8 1177.5L1343.2 1173.8L1350.6 1163.2L1358.1 1171.0L1365.5 1235.9L1372.9 1213.3L1380.3 1214.8L1387.8 1226.2L1395.2 1233.1L1402.6 1213.3L1410.1 1220.7L1417.5 1229.3L1424.9 1226.2L1432.4 1222.6L1439.8 1213.7L1447.2 1225.7L1454.6 1231.9L1462.1 1239.0L1469.5 1232.4L1476.9 1228.2L1484.4 1247.1L1491.8 1243.2L1499.2 1248.7L1506.6 1276.6L1514.1 1296.8L1521.5 1265.0L1528.9 1268.6L1536.4 1291.4L1543.8 1257.5L1551.2 1262.7L1558.6 1227.7L1566.1 1235.5L1573.5 1213.7L1580.9 1204.9L1588.4 1202.4L1595.8 1208.3L1603.2 1226.6L1610.6 1236.6L1618.1 1231.9L1625.5 1221.8L1632.9 1200.5L1640.4 1190.9L1647.8 1192.0L1655.2 1181.1L1662.6 1164.0L1670.1 1170.7L1677.5 1183.9L1684.9 1192.4L1692.4 1200.5L1699.8 1224.6L1707.2 1246.3L1714.7 1223.5L1722.1 1199.3L1729.5 1210.2L1736.9 1201.3L1744.4 1198.5L1751.8 1204.9L1759.2 1225.1L1766.7 1229.3L1774.1 1232.7L1781.5 1228.0L1788.9 1210.6L1796.4 1209.1L1803.8 1211.7L1811.2 1215.3L1818.7 1209.1L1826.1 1224.6L1833.5 1227.7L1840.9 1252.1L1848.4 1260.6L1855.8 1281.6L1863.2 1279.0L1870.7 1281.6L1878.1 1259.6L1885.5 1242.2L1892.9 1255.7L1900.4 1226.2L1907.8 1227.7L1915.2 1248.4L1922.7 1223.5L1930.1 1207.5L1937.5 1210.9L1945.0 1217.6L1952.4 1211.8L1959.8 1230.5L1967.2 1212.2L1974.7 1225.1L1982.1 1232.5L1989.5 1229.0L1997.0 1232.9L2004.4 1221.2L2011.8 1216.9" stroke="#9c56c4" stroke-width="2.7" stroke-linejoin="round" stroke-linecap="round" fill="none"/>
</g>
<g clip-path="url(#cd)">
<path d="M25.6 1410.3h5.4V1411.9h-5.4zM33.0 1380.0h5.4V1411.9h-5.4zM40.4 1377.2h5.4V1411.9h-5.4zM47.9 1373.0h5.4V1411.9h-5.4zM55.3 1362.2h5.4V1411.9h-5.4zM62.7 1332.2h5.4V1411.9h-5.4zM70.1 1315.3h5.4V1411.9h-5.4zM92.4 1315.3h5.4V1411.9h-5.4zM99.9 1315.3h5.4V1411.9h-5.4zM129.6 1332.2h5.4V1411.9h-5.4zM359.9 1404.1h5.4V1411.9h-5.4zM367.3 1386.1h5.4V1411.9h-5.4zM374.7 1376.1h5.4V1411.9h-5.4zM382.2 1356.3h5.4V1411.9h-5.4zM389.6 1343.1h5.4V1411.9h-5.4zM397.0 1335.3h5.4V1411.9h-5.4zM404.4 1331.1h5.4V1411.9h-5.4zM463.9 1410.3h5.4V1411.9h-5.4zM679.3 1407.1h5.4V1411.9h-5.4zM709.0 1402.4h5.4V1411.9h-5.4zM716.5 1401.3h5.4V1411.9h-5.4zM775.9 1406.3h5.4V1411.9h-5.4zM783.3 1392.3h5.4V1411.9h-5.4zM790.8 1382.2h5.4V1411.9h-5.4zM798.2 1377.2h5.4V1411.9h-5.4zM805.6 1373.0h5.4V1411.9h-5.4zM813.0 1367.1h5.4V1411.9h-5.4zM887.3 1406.3h5.4V1411.9h-5.4zM894.8 1399.3h5.4V1411.9h-5.4zM917.0 1407.5h5.4V1411.9h-5.4zM924.5 1408.3h5.4V1411.9h-5.4zM931.9 1407.2h5.4V1411.9h-5.4zM939.3 1407.2h5.4V1411.9h-5.4zM946.8 1402.4h5.4V1411.9h-5.4zM954.2 1400.2h5.4V1411.9h-5.4zM961.6 1398.2h5.4V1411.9h-5.4zM976.5 1396.2h5.4V1411.9h-5.4zM983.9 1395.1h5.4V1411.9h-5.4zM1013.6 1402.4h5.4V1411.9h-5.4zM1021.1 1361.2h5.4V1411.9h-5.4zM1028.5 1357.3h5.4V1411.9h-5.4zM1035.9 1354.2h5.4V1411.9h-5.4zM1043.3 1349.3h5.4V1411.9h-5.4zM1050.8 1344.1h5.4V1411.9h-5.4zM1058.2 1323.2h5.4V1411.9h-5.4zM1065.6 1315.3h5.4V1411.9h-5.4zM1073.1 1315.3h5.4V1411.9h-5.4zM1080.5 1315.3h5.4V1411.9h-5.4zM1087.9 1315.3h5.4V1411.9h-5.4zM1095.3 1315.3h5.4V1411.9h-5.4zM1147.3 1339.2h5.4V1411.9h-5.4zM1154.8 1334.2h5.4V1411.9h-5.4zM1251.4 1375.2h5.4V1411.9h-5.4zM1570.8 1397.1h5.4V1411.9h-5.4zM1578.2 1361.2h5.4V1411.9h-5.4zM1585.7 1337.2h5.4V1411.9h-5.4zM1593.1 1329.1h5.4V1411.9h-5.4zM1622.8 1376.1h5.4V1411.9h-5.4zM1630.2 1356.3h5.4V1411.9h-5.4zM1637.7 1336.1h5.4V1411.9h-5.4zM1645.1 1327.2h5.4V1411.9h-5.4zM1652.5 1315.3h5.4V1411.9h-5.4zM1659.9 1315.3h5.4V1411.9h-5.4zM1667.4 1315.3h5.4V1411.9h-5.4zM1741.7 1404.1h5.4V1411.9h-5.4zM1920.0 1408.0h5.4V1411.9h-5.4zM1927.4 1382.2h5.4V1411.9h-5.4zM1934.8 1369.2h5.4V1411.9h-5.4zM1942.3 1367.1h5.4V1411.9h-5.4zM1949.7 1362.2h5.4V1411.9h-5.4zM1964.5 1371.2h5.4V1411.9h-5.4zM2001.7 1401.0h5.4V1411.9h-5.4zM2009.1 1395.1h5.4V1411.9h-5.4z" fill="#26a69a"/>
<path d="M77.6 1315.3h5.4V1411.9h-5.4zM85.0 1323.2h5.4V1411.9h-5.4zM107.3 1315.3h5.4V1411.9h-5.4zM114.7 1315.3h5.4V1411.9h-5.4zM122.1 1332.2h5.4V1411.9h-5.4zM137.0 1335.3h5.4V1411.9h-5.4zM144.4 1356.3h5.4V1411.9h-5.4zM151.9 1394.0h5.4V1411.9h-5.4zM411.9 1342.3h5.4V1411.9h-5.4zM419.3 1369.5h5.4V1411.9h-5.4zM426.7 1379.3h5.4V1411.9h-5.4zM434.2 1402.4h5.4V1411.9h-5.4zM723.9 1405.2h5.4V1411.9h-5.4zM820.5 1373.0h5.4V1411.9h-5.4zM827.9 1392.0h5.4V1411.9h-5.4zM902.2 1410.3h5.4V1411.9h-5.4zM969.1 1403.2h5.4V1411.9h-5.4zM991.3 1397.1h5.4V1411.9h-5.4zM1102.8 1315.3h5.4V1411.9h-5.4zM1110.2 1315.3h5.4V1411.9h-5.4zM1117.6 1315.3h5.4V1411.9h-5.4zM1125.1 1315.3h5.4V1411.9h-5.4zM1132.5 1338.1h5.4V1411.9h-5.4zM1139.9 1351.1h5.4V1411.9h-5.4zM1162.2 1370.2h5.4V1411.9h-5.4zM1169.6 1390.1h5.4V1411.9h-5.4zM1177.1 1408.3h5.4V1411.9h-5.4zM1184.5 1409.4h5.4V1411.9h-5.4zM1258.8 1381.1h5.4V1411.9h-5.4zM1266.2 1381.1h5.4V1411.9h-5.4zM1273.6 1407.2h5.4V1411.9h-5.4zM1600.5 1344.1h5.4V1411.9h-5.4zM1607.9 1366.0h5.4V1411.9h-5.4zM1615.4 1378.0h5.4V1411.9h-5.4zM1674.8 1315.3h5.4V1411.9h-5.4zM1682.2 1315.3h5.4V1411.9h-5.4zM1689.7 1345.1h5.4V1411.9h-5.4zM1697.1 1385.3h5.4V1411.9h-5.4zM1749.1 1405.2h5.4V1411.9h-5.4zM1957.1 1375.2h5.4V1411.9h-5.4zM1972.0 1380.3h5.4V1411.9h-5.4zM1979.4 1392.3h5.4V1411.9h-5.4zM1986.8 1398.2h5.4V1411.9h-5.4zM1994.3 1404.1h5.4V1411.9h-5.4z" fill="#b2dfdb"/>
<path d="M159.3 1411.9h5.4V1439.8h-5.4zM166.7 1411.9h5.4V1464.7h-5.4zM174.1 1411.9h5.4V1480.8h-5.4zM181.6 1411.9h5.4V1513.8h-5.4zM189.0 1411.9h5.4V1513.8h-5.4zM196.4 1411.9h5.4V1513.8h-5.4zM203.9 1411.9h5.4V1513.8h-5.4zM211.3 1411.9h5.4V1513.8h-5.4zM255.9 1411.9h5.4V1513.8h-5.4zM285.6 1411.9h5.4V1435.8h-5.4zM293.0 1411.9h5.4V1435.8h-5.4zM300.4 1411.9h5.4V1444.8h-5.4zM307.9 1411.9h5.4V1459.9h-5.4zM315.3 1411.9h5.4V1474.8h-5.4zM441.6 1411.9h5.4V1414.5h-5.4zM449.0 1411.9h5.4V1424.6h-5.4zM471.3 1411.9h5.4V1422.6h-5.4zM478.7 1411.9h5.4V1433.6h-5.4zM486.2 1411.9h5.4V1454.6h-5.4zM493.6 1411.9h5.4V1472.8h-5.4zM560.5 1411.9h5.4V1429.7h-5.4zM567.9 1411.9h5.4V1436.7h-5.4zM575.3 1411.9h5.4V1441.7h-5.4zM582.7 1411.9h5.4V1446.7h-5.4zM590.2 1411.9h5.4V1450.7h-5.4zM597.6 1411.9h5.4V1454.6h-5.4zM627.3 1411.9h5.4V1446.7h-5.4zM634.7 1411.9h5.4V1447.6h-5.4zM686.8 1411.9h5.4V1415.8h-5.4zM694.2 1411.9h5.4V1416.5h-5.4zM731.3 1411.9h5.4V1416.5h-5.4zM738.8 1411.9h5.4V1421.8h-5.4zM761.0 1411.9h5.4V1421.8h-5.4zM835.3 1411.9h5.4V1414.5h-5.4zM842.8 1411.9h5.4V1424.6h-5.4zM850.2 1411.9h5.4V1432.7h-5.4zM909.6 1411.9h5.4V1415.6h-5.4zM1006.2 1411.9h5.4V1414.8h-5.4zM1191.9 1411.9h5.4V1426.6h-5.4zM1199.4 1411.9h5.4V1457.7h-5.4zM1206.8 1411.9h5.4V1471.7h-5.4zM1214.2 1411.9h5.4V1473.5h-5.4zM1221.6 1411.9h5.4V1479.8h-5.4zM1281.1 1411.9h5.4V1422.6h-5.4zM1288.5 1411.9h5.4V1431.6h-5.4zM1295.9 1411.9h5.4V1443.7h-5.4zM1303.4 1411.9h5.4V1447.6h-5.4zM1310.8 1411.9h5.4V1463.8h-5.4zM1318.2 1411.9h5.4V1475.6h-5.4zM1325.6 1411.9h5.4V1480.8h-5.4zM1333.1 1411.9h5.4V1486.7h-5.4zM1340.5 1411.9h5.4V1487.8h-5.4zM1362.8 1411.9h5.4V1513.8h-5.4zM1370.2 1411.9h5.4V1513.8h-5.4zM1377.6 1411.9h5.4V1513.8h-5.4zM1385.1 1411.9h5.4V1513.8h-5.4zM1392.5 1411.9h5.4V1513.8h-5.4zM1459.4 1411.9h5.4V1480.8h-5.4zM1481.7 1411.9h5.4V1469.7h-5.4zM1503.9 1411.9h5.4V1490.6h-5.4zM1511.4 1411.9h5.4V1513.8h-5.4zM1533.7 1411.9h5.4V1513.8h-5.4zM1704.5 1411.9h5.4V1434.7h-5.4zM1712.0 1411.9h5.4V1445.6h-5.4zM1756.5 1411.9h5.4V1425.7h-5.4zM1764.0 1411.9h5.4V1442.8h-5.4zM1771.4 1411.9h5.4V1455.7h-5.4zM1778.8 1411.9h5.4V1457.7h-5.4zM1823.4 1411.9h5.4V1423.8h-5.4zM1830.8 1411.9h5.4V1430.5h-5.4zM1838.2 1411.9h5.4V1452.6h-5.4zM1845.7 1411.9h5.4V1471.7h-5.4zM1853.1 1411.9h5.4V1503.5h-5.4zM1860.5 1411.9h5.4V1513.8h-5.4zM1868.0 1411.9h5.4V1513.8h-5.4zM1912.5 1411.9h5.4V1426.6h-5.4z" fill="#ff5252"/>
<path d="M218.7 1411.9h5.4V1513.8h-5.4zM226.2 1411.9h5.4V1513.8h-5.4zM233.6 1411.9h5.4V1513.8h-5.4zM241.0 1411.9h5.4V1513.8h-5.4zM248.4 1411.9h5.4V1513.8h-5.4zM263.3 1411.9h5.4V1493.7h-5.4zM270.7 1411.9h5.4V1451.5h-5.4zM278.2 1411.9h5.4V1433.6h-5.4zM322.7 1411.9h5.4V1473.5h-5.4zM330.2 1411.9h5.4V1469.7h-5.4zM337.6 1411.9h5.4V1457.7h-5.4zM345.0 1411.9h5.4V1454.9h-5.4zM352.4 1411.9h5.4V1442.5h-5.4zM456.5 1411.9h5.4V1423.5h-5.4zM501.0 1411.9h5.4V1470.7h-5.4zM508.5 1411.9h5.4V1462.7h-5.4zM515.9 1411.9h5.4V1453.7h-5.4zM523.3 1411.9h5.4V1451.5h-5.4zM530.7 1411.9h5.4V1434.7h-5.4zM538.2 1411.9h5.4V1427.7h-5.4zM545.6 1411.9h5.4V1424.6h-5.4zM553.0 1411.9h5.4V1418.7h-5.4zM605.0 1411.9h5.4V1449.8h-5.4zM612.5 1411.9h5.4V1443.7h-5.4zM619.9 1411.9h5.4V1436.7h-5.4zM642.2 1411.9h5.4V1439.7h-5.4zM649.6 1411.9h5.4V1433.6h-5.4zM657.0 1411.9h5.4V1428.8h-5.4zM664.5 1411.9h5.4V1421.8h-5.4zM671.9 1411.9h5.4V1413.7h-5.4zM746.2 1411.9h5.4V1421.8h-5.4zM753.6 1411.9h5.4V1420.7h-5.4zM768.5 1411.9h5.4V1414.5h-5.4zM857.6 1411.9h5.4V1431.6h-5.4zM865.0 1411.9h5.4V1423.5h-5.4zM872.5 1411.9h5.4V1413.7h-5.4zM1229.1 1411.9h5.4V1474.6h-5.4zM1236.5 1411.9h5.4V1470.7h-5.4zM1347.9 1411.9h5.4V1477.4h-5.4zM1355.4 1411.9h5.4V1475.9h-5.4zM1399.9 1411.9h5.4V1513.8h-5.4zM1407.4 1411.9h5.4V1513.8h-5.4zM1414.8 1411.9h5.4V1513.8h-5.4zM1422.2 1411.9h5.4V1513.8h-5.4zM1429.7 1411.9h5.4V1504.6h-5.4zM1437.1 1411.9h5.4V1485.7h-5.4zM1444.5 1411.9h5.4V1480.8h-5.4zM1451.9 1411.9h5.4V1479.8h-5.4zM1466.8 1411.9h5.4V1474.6h-5.4zM1474.2 1411.9h5.4V1464.7h-5.4zM1489.1 1411.9h5.4V1467.6h-5.4zM1496.5 1411.9h5.4V1467.6h-5.4zM1518.8 1411.9h5.4V1513.8h-5.4zM1526.2 1411.9h5.4V1513.8h-5.4zM1541.1 1411.9h5.4V1513.8h-5.4zM1548.5 1411.9h5.4V1504.6h-5.4zM1555.9 1411.9h5.4V1460.3h-5.4zM1563.4 1411.9h5.4V1436.7h-5.4zM1719.4 1411.9h5.4V1425.4h-5.4zM1726.8 1411.9h5.4V1424.6h-5.4zM1734.2 1411.9h5.4V1413.4h-5.4zM1786.2 1411.9h5.4V1443.6h-5.4zM1793.7 1411.9h5.4V1431.6h-5.4zM1801.1 1411.9h5.4V1424.6h-5.4zM1808.5 1411.9h5.4V1423.5h-5.4zM1816.0 1411.9h5.4V1416.5h-5.4zM1875.4 1411.9h5.4V1506.6h-5.4zM1882.8 1411.9h5.4V1480.5h-5.4zM1890.2 1411.9h5.4V1472.5h-5.4zM1897.7 1411.9h5.4V1443.6h-5.4zM1905.1 1411.9h5.4V1423.5h-5.4z" fill="#ffcdd2"/>
<path d="M25.2 1411.9H2953" stroke="#787b86" stroke-opacity="0.55" stroke-width="2.2" stroke-dasharray="10 12" fill="none"/>
<path d="M254.5 1320.1L258.6 1343.1L266.0 1342.0L271.2 1320.1M300.2 1320.1L303.1 1326.7L310.6 1351.6L318.0 1384.2L325.4 1396.7L332.9 1407.5L340.3 1406.7L347.7 1414.2L355.1 1409.4L362.6 1371.8L370.0 1343.8L378.9 1320.1M489.6 1320.1L496.3 1356.3L503.7 1364.8L511.2 1367.9L518.6 1368.7L526.0 1376.8L533.4 1365.3L540.9 1362.2L548.3 1359.7L555.7 1357.5L563.2 1371.8L570.6 1385.8L578.0 1398.2L585.4 1412.2L592.9 1425.4L600.3 1437.8L607.7 1441.7L615.2 1445.9L622.6 1442.5L630.0 1461.9L637.4 1472.0L644.9 1470.0L652.3 1469.2L659.7 1467.3L667.2 1462.7L674.6 1455.4L682.0 1447.6L689.5 1456.5L696.9 1458.0L704.3 1451.0L711.7 1440.5L719.2 1436.7L726.6 1438.9L734.0 1450.2L741.5 1458.8L748.9 1460.8L756.3 1462.7L763.7 1464.5L771.2 1458.0L778.6 1448.2L786.0 1427.7L793.5 1409.4L800.9 1396.7L808.3 1384.2L815.7 1365.6L823.2 1362.5L830.6 1378.0L838.0 1399.8L845.5 1413.0L852.9 1424.6L860.3 1428.8L867.7 1423.1L875.2 1414.5L882.6 1411.9L890.0 1403.6L897.5 1393.5L904.9 1403.6L912.3 1409.4L919.7 1401.6L927.2 1400.1L934.6 1397.4L942.0 1395.9L949.5 1388.9L956.9 1383.9L964.3 1377.7L971.8 1381.1L979.2 1369.5L986.6 1364.8L994.0 1362.5L1001.5 1375.7L1008.9 1379.9L1016.3 1353.2L1021.3 1320.1M1394.6 1320.1L1395.2 1324.4L1402.6 1336.8L1410.1 1357.0L1417.5 1382.7L1424.9 1399.8L1432.4 1411.4L1439.8 1411.4L1447.2 1422.3L1454.6 1437.0L1462.1 1455.7L1469.5 1465.8L1476.9 1468.9L1484.4 1488.3L1491.8 1499.2L1498.0 1508.5M1627.0 1508.5L1632.9 1477.4L1640.4 1440.1L1647.8 1412.2L1655.2 1373.3L1662.6 1325.2L1663.4 1320.1M1702.0 1320.1L1707.2 1362.5L1714.7 1381.9L1722.1 1365.3L1729.5 1367.1L1736.9 1356.3L1744.4 1345.7L1751.8 1344.6L1759.2 1367.1L1766.7 1389.7L1774.1 1412.2L1781.5 1428.8L1788.9 1422.3L1796.4 1416.1L1803.8 1410.9L1811.2 1411.9L1818.7 1406.7L1826.1 1416.8L1833.5 1426.9L1840.9 1459.6L1848.4 1489.9L1850.6 1508.5M1941.6 1508.5L1945.0 1500.7L1952.4 1485.2L1959.8 1489.5L1967.2 1474.0L1974.7 1474.6L1982.1 1482.1L1989.5 1484.4L1997.0 1488.8L2004.4 1482.1L2011.8 1472.8" stroke="#2962ff" stroke-width="2.5" stroke-linejoin="round" fill="none"/>
<path d="M317.3 1320.1L325.4 1338.4L332.9 1353.2L340.3 1365.6L347.7 1373.3L355.1 1380.3L362.6 1378.8L370.0 1373.3L377.4 1362.5L384.9 1346.9L392.3 1331.4L397.5 1320.1M510.8 1320.1L518.6 1330.6L526.0 1338.4L533.4 1343.5L540.9 1346.9L548.3 1349.3L555.7 1350.8L563.2 1354.7L570.6 1360.9L578.0 1368.4L585.4 1377.2L592.9 1386.6L600.3 1396.7L607.7 1405.2L615.2 1413.7L622.6 1419.2L630.0 1427.7L637.4 1436.3L644.9 1442.9L652.3 1447.9L659.7 1451.8L667.2 1454.1L674.6 1454.4L682.0 1453.0L689.5 1453.8L696.9 1454.9L704.3 1454.1L711.7 1451.0L719.2 1447.9L726.6 1446.0L734.0 1447.1L741.5 1449.5L748.9 1451.8L756.3 1454.1L763.7 1456.0L771.2 1456.5L778.6 1454.9L786.0 1449.5L793.5 1441.7L800.9 1431.6L808.3 1421.2L815.7 1410.6L823.2 1401.6L830.6 1397.1L838.0 1397.4L845.5 1400.1L852.9 1404.4L860.3 1408.8L867.7 1411.4L875.2 1412.2L882.6 1412.5L890.0 1410.6L897.5 1407.5L904.9 1406.7L912.3 1407.2L919.7 1406.3L927.2 1405.2L934.6 1403.6L942.0 1402.1L949.5 1399.4L956.9 1396.3L964.3 1392.8L971.8 1390.4L979.2 1386.1L986.6 1381.9L994.0 1378.0L1001.5 1377.5L1008.9 1377.7L1016.3 1374.9L1023.8 1362.5L1031.2 1345.4L1038.6 1328.3L1043.8 1320.1M1431.9 1320.1L1439.8 1337.6L1447.2 1353.9L1454.6 1369.5L1462.1 1385.8L1469.5 1401.0L1476.9 1413.7L1484.4 1428.5L1491.8 1440.1L1499.2 1451.8L1506.6 1469.7L1514.1 1503.1L1515.0 1508.5M1644.1 1508.5L1647.8 1496.1L1655.2 1472.8L1662.6 1441.7L1670.1 1410.6L1677.5 1382.7L1684.9 1359.4L1692.4 1342.3L1699.8 1336.1L1707.2 1342.0L1714.7 1349.6L1722.1 1352.4L1729.5 1355.0L1736.9 1355.5L1744.4 1353.5L1751.8 1351.6L1759.2 1354.7L1766.7 1361.7L1774.1 1371.8L1781.5 1384.2L1788.9 1391.7L1796.4 1396.7L1803.8 1400.1L1811.2 1402.1L1818.7 1403.2L1826.1 1406.0L1833.5 1409.9L1840.9 1420.0L1848.4 1433.9L1855.8 1454.1L1863.2 1483.6L1869.2 1508.5M1973.9 1508.5L1974.7 1507.7L1982.1 1502.6L1989.5 1498.9L1997.0 1496.8L2004.4 1493.7L2011.8 1489.5" stroke="#ff6d00" stroke-width="2.5" stroke-linejoin="round" fill="none"/>
</g>
<text x="2975.7" y="116.8" font-size="29.8" fill="#131722" stroke="#131722" stroke-width="0.45" >1.8000</text>
<text x="2975.7" y="228.8" font-size="29.8" fill="#131722" stroke="#131722" stroke-width="0.45" >1.7000</text>
<text x="2975.7" y="340.8" font-size="29.8" fill="#131722" stroke="#131722" stroke-width="0.45" >1.6000</text>
<text x="2975.7" y="452.8" font-size="29.8" fill="#131722" stroke="#131722" stroke-width="0.45" >1.5000</text>
<text x="2975.7" y="564.8" font-size="29.8" fill="#131722" stroke="#131722" stroke-width="0.45" >1.4000</text>
<text x="2975.7" y="676.8" font-size="29.8" fill="#131722" stroke="#131722" stroke-width="0.45" >1.3000</text>
<text x="2975.7" y="788.8" font-size="29.8" fill="#131722" stroke="#131722" stroke-width="0.45" >1.2000</text>
<text x="2975.7" y="900.8" font-size="29.8" fill="#131722" stroke="#131722" stroke-width="0.45" >1.1000</text>
<text x="2975.7" y="1013.8" font-size="29.8" fill="#131722" stroke="#131722" stroke-width="0.45" >1.0000</text>
<path d="M2955 551H3074a4 4 0 0 1 4 4V626a4 4 0 0 1 -4 4H2955z" fill="#089981"/>
<text x="2975.7" y="584.0" font-size="29.8" fill="#fff" stroke="#fff" stroke-width="0.45" >1.3833</text>
<text x="2975.7" y="619.0" font-size="29.8" fill="#fff" stroke="#fff" stroke-width="0.45" fill-opacity="0.72">55:13</text>
<g clip-path="url(#car)">
<text x="2975.7" y="1136.9" font-size="29.8" fill="#131722" stroke="#131722" stroke-width="0.45" >75.00</text>
<text x="2975.7" y="1313.5" font-size="29.8" fill="#131722" stroke="#131722" stroke-width="0.45" >25.00</text>
<path d="M2955 1195H3059a4 4 0 0 1 4 4V1235a4 4 0 0 1 -4 4H2955z" fill="#9c56c4"/>
<text x="2975.7" y="1227.4" font-size="29.8" fill="#fff" stroke="#fff" stroke-width="0.45" >49.38</text>
</g>
<g clip-path="url(#cad)">
<text x="2975.7" y="1341.5" font-size="29.8" fill="#131722" stroke="#131722" stroke-width="0.45" >0.0100</text>
<text x="2975.7" y="1422.7" font-size="29.8" fill="#131722" stroke="#131722" stroke-width="0.45" >0.0000</text>
<path d="M2955 1373H3074a4 4 0 0 1 4 4V1413a4 4 0 0 1 -4 4H2955z" fill="#26a69a"/>
<text x="2975.7" y="1405.8" font-size="29.8" fill="#fff" stroke="#fff" stroke-width="0.45" >0.0021</text>
<path d="M2955 1451H3091a4 4 0 0 1 4 4V1489.3a4 4 0 0 1 -4 4H2955z" fill="#2962ff"/>
<text x="2975.7" y="1484.9" font-size="29.8" fill="#fff" stroke="#fff" stroke-width="0.45" >−0.0074</text>
<path d="M2955 1493.3H3091a4 4 0 0 1 4 4V1531.6a4 4 0 0 1 -4 4H2955z" fill="#ff6d00"/>
<text x="2975.7" y="1527.2" font-size="29.8" fill="#fff" stroke="#fff" stroke-width="0.45" >−0.0094</text>
</g>
<text id="l1" x="44.2" y="114.9" font-size="29.5" fill="#131722" stroke="#131722" stroke-width="0.45" textLength="393.5" lengthAdjust="spacingAndGlyphs" >XRP / TetherUS, 1h, BINANCE</text>
<text id="l2" x="455.6" y="114.9" font-size="29.5" fill="#131722" stroke="#131722" stroke-width="0.45" >O</text>
<text id="l3" x="479.1" y="114.9" font-size="29.5" fill="#089981" stroke="#089981" stroke-width="0.45" textLength="82.7" lengthAdjust="spacingAndGlyphs" >1.3781</text>
<text id="l4" x="582.8" y="114.9" font-size="29.5" fill="#131722" stroke="#131722" stroke-width="0.45" >H</text>
<text id="l5" x="608" y="114.9" font-size="29.5" fill="#089981" stroke="#089981" stroke-width="0.45" textLength="84.5" lengthAdjust="spacingAndGlyphs" >1.3837</text>
<text id="l6" x="711.4" y="114.9" font-size="29.5" fill="#131722" stroke="#131722" stroke-width="0.45" >L</text>
<text id="l7" x="728.6" y="114.9" font-size="29.5" fill="#089981" stroke="#089981" stroke-width="0.45" textLength="86.3" lengthAdjust="spacingAndGlyphs" >1.3747</text>
<text id="l8" x="833" y="114.9" font-size="29.5" fill="#131722" stroke="#131722" stroke-width="0.45" >C</text>
<text id="l9" x="854.7" y="114.9" font-size="29.5" fill="#089981" stroke="#089981" stroke-width="0.45" textLength="85.1" lengthAdjust="spacingAndGlyphs" >1.3833</text>
<text id="l10" x="960.4" y="114.9" font-size="29.5" fill="#089981" stroke="#089981" stroke-width="0.45" textLength="104.2" lengthAdjust="spacingAndGlyphs" >+0.0053</text>
<text id="l11" x="1075" y="114.9" font-size="29.5" fill="#089981" stroke="#089981" stroke-width="0.45" textLength="113.0" lengthAdjust="spacingAndGlyphs" >(+0.38%)</text>
<text id="r1" x="44.7" y="1125.7" font-size="29.5" fill="#131722" stroke="#131722" stroke-width="0.45" textLength="191.7" lengthAdjust="spacingAndGlyphs" >RSI (14, close)</text>
<text id="r2" x="254.3" y="1125.7" font-size="29.5" fill="#9c56c4" stroke="#9c56c4" stroke-width="0.45" textLength="73.3" lengthAdjust="spacingAndGlyphs" >49.38</text>
<text id="r3" transform="translate(346.2 1125.7) scale(0.8 1.04)" font-size="28.7" fill="#131722" stroke="#131722" stroke-width="0.45">∅</text>
<text id="r4" transform="translate(384.1 1125.7) scale(0.8 1.04)" font-size="28.7" fill="#131722" stroke="#131722" stroke-width="0.45">∅</text>
<text id="r5" transform="translate(421.90000000000003 1125.7) scale(0.8 1.04)" font-size="28.7" fill="#131722" stroke="#131722" stroke-width="0.45">∅</text>
<text id="r6" transform="translate(460.40000000000003 1125.7) scale(0.8 1.04)" font-size="28.7" fill="#131722" stroke="#131722" stroke-width="0.45">∅</text>
<text id="m1" x="43.4" y="1367.1" font-size="29.5" fill="#131722" stroke="#131722" stroke-width="0.45" textLength="279.5" lengthAdjust="spacingAndGlyphs" >MACD (12, 26, close)</text>
<text id="m2" x="341.0" y="1367.1" font-size="29.5" fill="#26a69a" stroke="#26a69a" stroke-width="0.45" textLength="86.0" lengthAdjust="spacingAndGlyphs" >0.0021</text>
<text id="m3" x="448.2" y="1367.1" font-size="29.5" fill="#2962ff" stroke="#2962ff" stroke-width="0.45" textLength="108.3" lengthAdjust="spacingAndGlyphs" >−0.0074</text>
<text id="m4" x="572.2" y="1367.1" font-size="29.5" fill="#ff6d00" stroke="#ff6d00" stroke-width="0.45" textLength="106.3" lengthAdjust="spacingAndGlyphs" >−0.0094</text>
<text x="318.0" y="1555.2" font-size="29.8" fill="#131722" stroke="#131722" stroke-width="0.45" text-anchor="middle">18</text>
<text x="674.6" y="1555.2" font-size="29.8" fill="#131722" stroke="#131722" stroke-width="0.45" text-anchor="middle">20</text>
<text x="1031.2" y="1555.2" font-size="29.8" fill="#131722" stroke="#131722" stroke-width="0.45" text-anchor="middle">22</text>
<text x="1298.6" y="1555.2" font-size="29.8" fill="#131722" stroke="#131722" stroke-width="0.45" text-anchor="middle">12:30</text>
<text x="1566.1" y="1555.2" font-size="29.8" fill="#131722" stroke="#131722" stroke-width="0.45" text-anchor="middle">25</text>
<text x="1922.7" y="1555.2" font-size="29.8" fill="#131722" stroke="#131722" stroke-width="0.45" text-anchor="middle">27</text>
<text x="2279.3" y="1555.2" font-size="29.8" fill="#131722" stroke="#131722" stroke-width="0.45" text-anchor="middle">29</text>
<text x="2635.8" y="1555.2" font-size="29.8" fill="#131722" text-anchor="middle" font-weight="bold">Dec</text>
<rect x="25.1" y="67" width="3082.9" height="1511.5" fill="none" stroke="#ebedf3" stroke-width="2.3"/>
<g transform="translate(24.8 1603.55) scale(1.39)" fill="#131722"><path d="M14 22H7V11H0V4h14v18zM28 22h-8l7.5-18h8L28 22z"/><circle cx="20" cy="8" r="4"/></g>
<text id="tv" x="83" y="1634.7" font-size="32.5" fill="#131722" textLength="175.8" lengthAdjust="spacingAndGlyphs" stroke="#131722" stroke-width="0.5">TradingView</text>
</svg>
</body></html>
